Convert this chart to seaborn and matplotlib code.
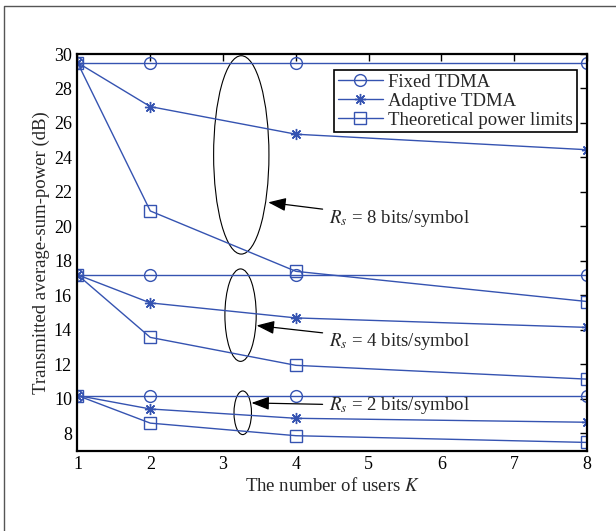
import numpy as np
import pandas as pd
import seaborn as sns
import matplotlib
matplotlib.use("Agg")
import matplotlib.pyplot as plt
from matplotlib.patches import Ellipse
from matplotlib.lines import Line2D

# number of users
users = [1, 2, 4, 8]

# transmitted average sum power (dB) per rate
fixed_8 = [29.5, 29.5, 29.5, 29.5]
adaptive_8 = [29.5, 26.95, 25.35, 24.45]
theory_8 = [29.5, 20.9, 17.4, 15.65]

fixed_4 = [17.2, 17.2, 17.2, 17.2]
adaptive_4 = [17.2, 15.57, 14.7, 14.15]
theory_4 = [17.2, 13.57, 11.95, 11.15]

fixed_2 = [10.2, 10.2, 10.2, 10.2]
adaptive_2 = [10.2, 9.42, 8.88, 8.65]
theory_2 = [10.2, 8.6, 7.87, 7.48]

x_ticks = [1, 2, 3, 4, 5, 6, 7, 8]
y_ticks = [8, 10, 12, 14, 16, 18, 20, 22, 24, 26, 28, 30]

sns.set_theme(style="white")
plt.rcParams["font.family"] = ["Liberation Serif", "DejaVu Serif"]
plt.rcParams["mathtext.fontset"] = "stix"

blue = "#3553b1"

fig = plt.figure(figsize=(6.16, 5.31), dpi=100)
ax = fig.add_axes([0.1258, 0.1512, 0.953 - 0.1258, 0.8983 - 0.1512])

groups = [
    (fixed_8, adaptive_8, theory_8),
    (fixed_4, adaptive_4, theory_4),
    (fixed_2, adaptive_2, theory_2),
]
for n, (fx, ad, th) in enumerate(groups):
    sns.lineplot(x=users, y=fx, ax=ax, color=blue, lw=1, marker="o", ms=8.5,
                 mfc="none", mec=blue, mew=1,
                 label="Fixed TDMA" if n == 0 else None)
    sns.lineplot(x=users, y=ad, ax=ax, color=blue, lw=1, marker=(8, 2, 0), ms=8,
                 mec=blue, mew=1,
                 label="Adaptive TDMA" if n == 0 else None)
    sns.lineplot(x=users, y=th, ax=ax, color=blue, lw=1, marker="s", ms=8.5,
                 mfc="none", mec=blue, mew=1,
                 label="Theoretical power limits" if n == 0 else None)

# ellipses grouping the curves of each rate
for cx, cy, w, h in [(3.25, 24.15, 0.76, 11.5), (3.24, 14.86, 0.43, 5.36), (3.27, 9.2, 0.24, 2.53)]:
    ax.add_patch(Ellipse((cx, cy), w, h, fill=False, ec="black", lw=0.8))

notes = [
    (r"$R_s$ = 8 bits/symbol", (3.62, 21.4), (4.45, 20.45)),
    (r"$R_s$ = 4 bits/symbol", (3.46, 14.26), (4.45, 13.34)),
    (r"$R_s$ = 2 bits/symbol", (3.39, 9.77), (4.45, 9.6)),
]
for txt, tip, pos in notes:
    ax.annotate(txt, xy=tip, xytext=pos, fontsize=13.5, ha="left", va="center",
                arrowprops=dict(arrowstyle="-|>,head_length=0.8,head_width=0.3",
                                color="black", lw=0.9, shrinkA=2, shrinkB=0))

ax.set_xlim(1, 8)
ax.set_ylim(7, 30)
ax.set_xticks(x_ticks)
ax.set_yticks(y_ticks)
ax.tick_params(direction="in", top=True, right=True, length=5, width=1,
               labelsize=13, colors="black", pad=4)
for s in ax.spines.values():
    s.set_color("black")
    s.set_linewidth(1.6)

ax.set_xlabel(r"The number of users $K$", fontsize=13.5, labelpad=3)
ax.set_ylabel("Transmitted average-sum-power (dB)", fontsize=13.5, labelpad=3)

leg = ax.legend(loc="upper right", bbox_to_anchor=(0.98, 0.96), fontsize=13.5,
                frameon=True, fancybox=False, edgecolor="black", framealpha=1,
                borderpad=0.2, labelspacing=0.1, handlelength=2.4,
                handletextpad=0.3, borderaxespad=0)
leg.get_frame().set_linewidth(1.2)

# partial frame of the original figure
fig.add_artist(Line2D([3.5 / 616, 3.5 / 616, 1], [0, 1 - 5.5 / 531, 1 - 5.5 / 531],
                      transform=fig.transFigure, color="#555555", lw=1))

fig.savefig("out.png", dpi=100)
